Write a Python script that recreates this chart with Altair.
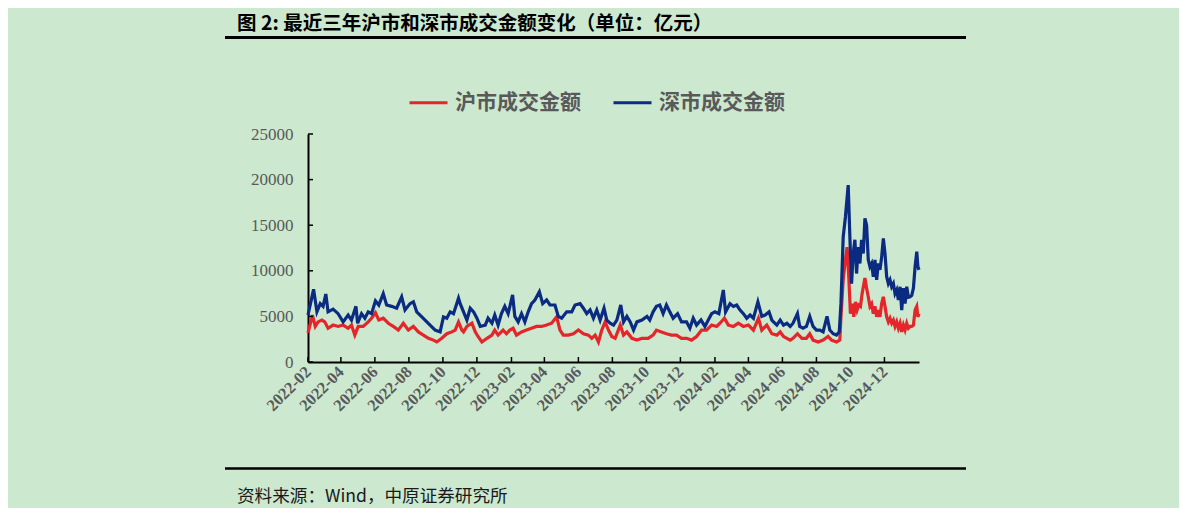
import altair as alt
import pandas as pd

# ---------------- data ----------------
start = "2022-02-01"          # day 0 of the offsets below
series_names = ["沪市成交金额", "深市成交金额"]
series_colors = ["#e4262b", "#0b2a82"]

# (days since start, turnover in 亿元)
sh_points = [(0,3200),(8,5150),(13,3900),(18,4400),(25,4600),(30,4400),(36,3700),(45,4050),(54,3900),(63,4050),
             (72,3700),(78,4050),(84,2950),(90,3900),(99,3900),(108,4400),(114,4800),(121,5400),(127,4600),(135,4800),
             (144,4250),(153,3900),(162,3500),(171,4250),(180,3500),(189,3900),(198,3300),(207,2950),(216,2600),(225,2400),
             (231,2200),(240,2600),(249,3100),(258,3300),(264,3500),(270,4400),(276,3500),(279,3300),(285,3900),(294,4250),
             (300,3300),(305,2800),(312,2200),(321,2600),(330,2950),(335,3500),(341,2950),(350,3500),(356,3100),(362,3500),
             (368,3700),(374,2950),(383,3300),(392,3500),(401,3700),(410,3900),(419,3900),(428,4050),(437,4250),(446,4950),
             (452,3500),(458,2950),(467,2950),(476,3100),(485,3500),(494,3100),(503,2950),(509,2600),(515,2950),(521,2200),
             (527,3500),(533,4400),(539,3500),(545,2800),(551,2600),(560,4050),(566,2950),(572,3300),(581,2600),(590,2400),
             (599,2600),(610,2600),(619,2950),(625,3500),(634,3300),(643,3100),(652,2950),(661,2950),(670,2600),(679,2600),
             (688,2400),(697,2800),(706,3500),(715,3500),(724,4050),(733,3900),(739,4250),(747,4800),(754,4050),(763,3900),
             (772,4250),(781,3900),(790,4050),(799,3500),(808,4800),(814,3500),(823,4050),(832,3100),(841,2950),(847,3300),
             (853,2800),(859,2600),(865,2400),(870,2600),(878,3100),(886,2600),(894,2600),(900,3100),(906,2400),(915,2200),
             (924,2400),(933,2800),(939,2400),(948,2200),(954,2400),(956,4950),(960,9000),(964,11200),(967,12600),(970,9350),
             (973,5300),(976,6400),(979,4950),(982,6600),(985,5700),(988,6250),(991,6100),(994,7500),(999,9200),(1002,8100),
             (1005,7150),(1008,6100),(1011,6400),(1014,5300),(1017,6100),(1020,4950),(1023,5700),(1026,4950),(1029,6400),(1032,7150),
             (1035,6100),(1038,4950),(1041,4400),(1044,4800),(1047,4250),(1050,4600),(1053,3900),(1056,4400),(1059,3700),(1062,4250),
             (1065,3300),(1068,4050),(1071,3500),(1074,4250),(1077,3700),(1080,3900),(1083,3900),(1086,4050),(1089,5700),(1092,6100),
             (1094,4950),(1096,5300)]

sz_points = [(0,5150),(10,7970),(16,5500),(22,6400),(27,6100),(32,7450),(36,5500),(45,5800),(54,5300),(63,4400),
             (72,5150),(78,4600),(86,6100),(89,4250),(96,5300),(102,4800),(108,5500),(114,5300),(121,6700),(127,6250),
             (135,7500),(141,6250),(150,6100),(159,5900),(168,7150),(174,5700),(183,6400),(189,6600),(195,5500),(201,5150),
             (210,4600),(219,4050),(228,3500),(237,3300),(243,4950),(249,4800),(255,5500),(261,5300),(270,7000),(273,6400),
             (279,5500),(285,4600),(291,5900),(297,5500),(303,4800),(309,3900),(318,4050),(323,4800),(330,4250),(335,5150),
             (341,4050),(347,5300),(353,6100),(359,5300),(367,7350),(371,5000),(377,4400),(383,5300),(389,4400),(395,5500),
             (401,6400),(407,6800),(415,7700),(421,6400),(428,6800),(434,6250),(443,6250),(449,5000),(455,4800),(464,5500),
             (473,5500),(479,6250),(488,6400),(494,5900),(500,5300),(506,5700),(512,4800),(518,5700),(524,4600),(531,5900),
             (536,4600),(542,4250),(548,4050),(554,4600),(561,6250),(566,4400),(572,5000),(578,4400),(584,3500),(590,4400),
             (599,4600),(608,5000),(613,4600),(619,5500),(625,6100),(631,6250),(637,5300),(643,6250),(649,5500),(655,4800),
             (663,5300),(670,4400),(679,4400),(685,3700),(691,4800),(697,4050),(705,4600),(712,3900),(718,4600),(724,5300),
             (730,5500),(737,5300),(745,7900),(749,5500),(757,6400),(763,6100),(769,6250),(775,5700),(781,5300),(787,4800),
             (793,5150),(799,4800),(807,6600),(814,5000),(820,5150),(827,5500),(832,4600),(835,4400),(841,4050),(847,4600),
             (853,4050),(859,4250),(865,3900),(870,4250),(878,5300),(882,3900),(888,3700),(894,3900),(900,5000),(906,3900),
             (912,3500),(918,3500),(924,3300),(931,5000),(936,3500),(942,3100),(948,2950),(953,3300),(956,6400),(960,13700),
             (964,15900),(969,19400),(972,13700),(975,8600),(978,11900),(981,13400),(984,9700),(987,12600),(990,10800),(993,13400),
             (996,11900),(999,15750),(1002,15000),(1005,11200),(1008,10450),(1011,10800),(1014,9350),(1017,11200),(1020,9000),(1023,10800),
             (1026,10100),(1029,11500),(1032,13550),(1035,11900),(1038,9350),(1041,8600),(1044,9000),(1047,8250),(1050,8600),(1053,7500),
             (1056,7900),(1059,6800),(1062,8250),(1065,5700),(1068,8100),(1071,6400),(1074,8250),(1077,7100),(1080,7150),(1083,7300),
             (1086,8100),(1089,10450),(1092,12100),(1094,10450),(1096,10100)]

tick_labels = ["2022-02", "2022-04", "2022-06", "2022-08", "2022-10", "2022-12",
               "2023-02", "2023-04", "2023-06", "2023-08", "2023-10", "2023-12",
               "2024-02", "2024-04", "2024-06", "2024-08", "2024-10", "2024-12"]
y_ticks = [0, 5000, 10000, 15000, 20000, 25000]

title_text = "图 2: 最近三年沪市和深市成交金额变化（单位：亿元）"
source_text = "资料来源：Wind，中原证券研究所"

# ---------------- build tables ----------------
base = pd.Timestamp(start)


def frame(points, name):
    return pd.DataFrame({
        "date": [base + pd.Timedelta(days=d) for d, _ in points],
        "value": [v for _, v in points],
        "series": name,
    })


df = pd.concat([frame(sh_points, series_names[0]), frame(sz_points, series_names[1])], ignore_index=True)
xticks_df = pd.DataFrame({"date": [pd.Timestamp(t + "-01") for t in tick_labels]})
yticks_df = pd.DataFrame({"value": y_ticks})
dummy = pd.DataFrame({"a": [1]})

W, H = 611, 228
GRAY = "#595959"
CJK = "Noto Sans CJK SC"
SERIF = "Liberation Serif"

x_enc = alt.X(
    "date:T",
    scale=alt.Scale(domain=[alt.DateTime(year=2022, month=2, date=1),
                            alt.DateTime(year=2025, month=2, date=1)]),
    axis=alt.Axis(
        title=None,
        values=[alt.DateTime(year=int(t[:4]), month=int(t[5:]), date=1) for t in tick_labels],
        format="%Y-%m", labelAngle=-45, labelAlign="right", labelBaseline="middle",
        labelFont=SERIF, labelFontSize=16.5, labelFontWeight="bold", labelColor=GRAY,
        labelPadding=7, labelOverlap=False, labelFlush=False,
        ticks=False, grid=False, domainColor="black", domainWidth=2,
    ),
)
y_enc = alt.Y(
    "value:Q",
    scale=alt.Scale(domain=[0, 25000]),
    axis=alt.Axis(
        title=None, values=y_ticks, format="d",
        labelFont=SERIF, labelFontSize=17, labelColor=GRAY, labelPadding=15,
        ticks=False, grid=False, domainColor="black", domainWidth=2,
    ),
)

lines = alt.Chart(df).mark_line(strokeWidth=3.2).encode(
    x=x_enc,
    y=y_enc,
    color=alt.Color(
        "series:N",
        scale=alt.Scale(domain=series_names, range=series_colors),
        legend=alt.Legend(
            title=None, orient="none", legendX=100, legendY=-52, direction="horizontal",
            symbolType="stroke", symbolSize=1444, symbolStrokeWidth=3,
            labelFont=CJK, labelFontSize=21, labelFontWeight="bold", labelColor=GRAY,
            labelOffset=6, columnPadding=26, labelLimit=400, padding=0,
        ),
    ),
)

xticks = alt.Chart(xticks_df).mark_rule(color="black", strokeWidth=1.5).encode(
    x=x_enc, y=alt.value(H), y2=alt.value(H - 5)
)
yticks = alt.Chart(yticks_df).mark_rule(color="black", strokeWidth=1.5).encode(
    y=y_enc, x=alt.value(0), x2=alt.value(5)
)

title = alt.Chart(dummy).mark_text(
    text=title_text, align="left", baseline="middle", font=CJK,
    fontSize=19.5, fontWeight="bold", color="black"
).encode(x=alt.value(-71), y=alt.value(-110))

source = alt.Chart(dummy).mark_text(
    text=source_text, align="left", baseline="middle", font=CJK,
    fontSize=17.6, color="#1a1a1a"
).encode(x=alt.value(-71), y=alt.value(363))

top_rule = alt.Chart(dummy).mark_rule(color="black", strokeWidth=3).encode(
    x=alt.value(-83), x2=alt.value(658), y=alt.value(-96.5)
)
bottom_rule = alt.Chart(dummy).mark_rule(color="black", strokeWidth=2.5).encode(
    x=alt.value(-83), x2=alt.value(658), y=alt.value(334.5)
)

chart = alt.layer(top_rule, bottom_rule, title, source, lines, xticks, yticks).properties(
    width=W, height=H,
    padding={"left": 300, "top": 126, "right": 260, "bottom": 146},
    autosize=alt.AutoSizeParams(type="none"),
    background="#cce8cf",
).configure_view(stroke=None)

chart.save("out.html", embed_options={"renderer": "svg", "actions": False})
